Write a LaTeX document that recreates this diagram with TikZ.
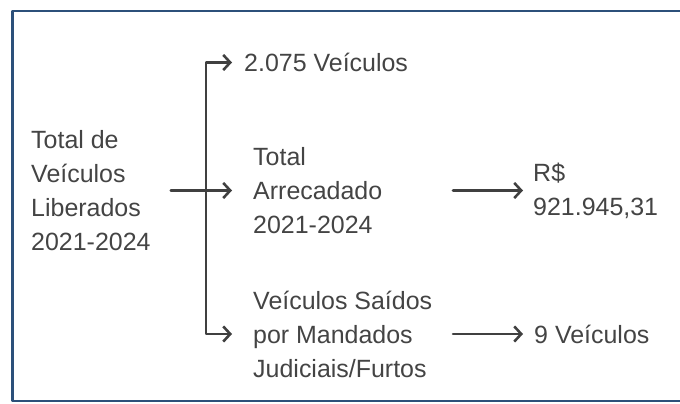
\documentclass[tikz,border=0pt]{standalone}
\usepackage{fontspec}
\setmainfont{Liberation Sans}
\usepackage{xcolor}
\usepackage{tikz}
\usetikzlibrary{arrows.meta,calc}
\definecolor{frameblue}{RGB}{44,80,122}
\definecolor{txtgray}{RGB}{68,68,68}
\definecolor{linegray}{RGB}{64,64,64}
\tikzset{
  lbl/.style={anchor=west,inner sep=0pt,align=left,text=txtgray,
    font=\fontsize{21.3pt}{29pt}\selectfont},
  conn/.style={draw=linegray,line width=2.2pt,
    -{Straight Barb[length=6pt,width=13pt]}},
  frame/.style={draw=frameblue,line width=2pt},
}

\begin{document}
\begin{tikzpicture}[line cap=round,line join=round,x=0.03cm,y=-0.03cm]
\useasboundingbox (0,0) rectangle (680,404);
\draw[frame,line cap=butt] (680,11) -- (12.5,11) -- (12.5,401) -- (680,401);
% texts
\node[lbl] (total) at (31,190.5) {Total de\\Veículos\\Liberados\\2021-2024};
\node[lbl] (veic) at (244,62.5) {2.075 Veículos};
\node[lbl] (arrec) at (253,190.5) {Total\\Arrecadado\\2021-2024};
\node[lbl] (saidos) at (253,334) {Veículos Saídos\\por Mandados\\Judiciais/Furtos};
\node[lbl] (valor) at (533,190.5) {R\$\\921.945,31};
\node[lbl] (nove) at (534,334) {9 Veículos};
% connectors
\coordinate (bus) at (206,190.5);
\draw[conn] ($(total.east)+(20,0)$) -- ($(arrec.west)+(-21,0)$);
\draw[conn] (bus) |- ($(veic.west)+(-12,0)$);
\draw[conn] (bus) |- ($(saidos.west)+(-21,0)$);
\draw[conn] ($(arrec.west)+(200,0)$) -- ($(valor.west)+(-10,0)$);
\draw[conn] ($(saidos.west)+(200,0)$) -- ($(nove.west)+(-11,0)$);
\end{tikzpicture}
\end{document}
